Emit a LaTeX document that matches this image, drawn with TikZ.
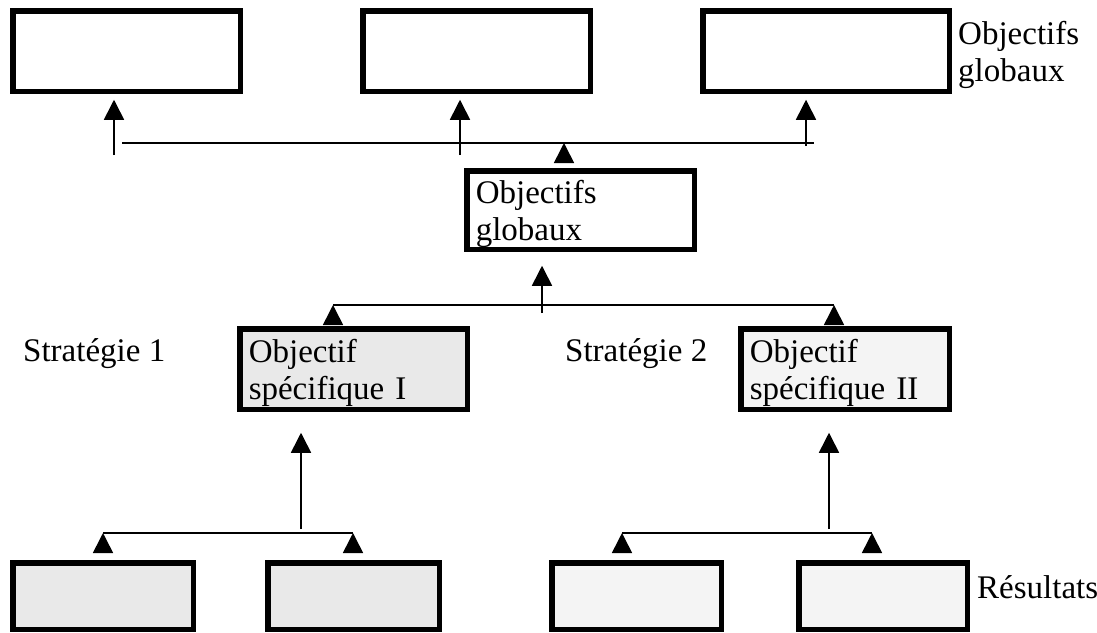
\documentclass[tikz,border=0pt]{standalone}
\usepackage{fontspec}
\setmainfont{Liberation Serif}
\usetikzlibrary{arrows.meta, positioning}
\definecolor{greyA}{RGB}{233, 233, 233}
\definecolor{greyB}{RGB}{244, 244, 244}

\tikzset{
  goalbox/.style={draw, line width=5.5pt, minimum height=80.5pt, inner sep=0pt},
  txtbox/.style={goalbox, align=left, inner xsep=9pt, text width=#1, text depth=36pt},
  tag/.style={anchor=base west, inner sep=0pt, align=left},
  link/.style={line width=1.6pt},
  up/.style={link, -{Triangle[length=20pt, width=20pt]}},
}

\begin{document}
\begin{tikzpicture}[x=1pt, y=-1pt, every node/.style={font=\fontsize{33}{37}\selectfont}]
    \useasboundingbox (0,0) rectangle (1097,632);
    % top row
    \node[goalbox, minimum width=227.5pt] (glob1) at (126.5,51) {};
    \node[goalbox, minimum width=227.5pt] (glob2) at (476.5,51) {};
    \node[goalbox, minimum width=246.5pt] (glob3) at (826,51) {};
    \node[tag] (lblglob) at (958,81) {Objectifs\\globaux};
    % middle
    \node[txtbox=209.5pt, minimum width=227.5pt, minimum height=78.5pt] (glob) at (580.5,210) {Objectifs\\globaux};
    \node[txtbox=209.5pt, minimum width=227.5pt, fill=greyA] (spec1) at (353.5,369) {Objectif\\spécifique I};
    \node[txtbox=190.5pt, minimum width=208.5pt, fill=greyB] (spec2) at (845,369) {Objectif\\spécifique II};
    \node[tag] (strat1) at (23,361) {Stratégie 1};
    \node[tag] (strat2) at (565,361) {Stratégie 2};
    % results
    \node[goalbox, minimum width=180.5pt, minimum height=66.5pt, fill=greyA] (res1) at (103,596) {};
    \node[goalbox, minimum width=171.5pt, minimum height=66.5pt, fill=greyA] (res2) at (353.5,596) {};
    \node[goalbox, minimum width=169.5pt, minimum height=66.5pt, fill=greyB] (res3) at (636.5,596) {};
    \node[goalbox, minimum width=168.5pt, minimum height=66.5pt, fill=greyB] (res4) at (883,596) {};
    \node[tag] (lblres) at (977,598) {Résultats};

    % junction points
    \coordinate (barA) at (122,143);  \coordinate (barB) at (814,143);
    \coordinate (upA) at (114,155);   \coordinate (upB) at (460,155);
    \coordinate (upC) at (806,146);   \coordinate (upD) at (564,143);
    \coordinate (midA) at (542,313);
    \coordinate (barC) at (333,305);  \coordinate (barD) at (834,305);
    \coordinate (lowA) at (301,529);  \coordinate (lowB) at (829,529);
    \coordinate (barE) at (103,533);  \coordinate (barF) at (353,533);
    \coordinate (barG) at (622,533);  \coordinate (barH) at (872,533);

    % global level
    \draw[link] (barA) -- (barB);
    \draw[up, shorten >=5.75pt] (upA) -- (upA |- glob1.south);
    \draw[up, shorten >=5.75pt] (upB) -- (upB |- glob2.south);
    \draw[up, shorten >=5.75pt] (upC) -- (upC |- glob3.south);
    \draw[up, shorten <=7.75pt] (upD |- glob.north) -- (upD);

    % strategies
    \draw[up, shorten >=13.75pt] (midA) -- (midA |- glob.south);
    \draw[link] (barC) -- (barD);
    \draw[up, shorten <=3.75pt] (barC |- spec1.north) -- (barC);
    \draw[up, shorten <=3.75pt] (barD |- spec2.north) -- (barD);

    % results
    \draw[up, shorten >=20.75pt] (lowA) -- (lowA |- spec1.south);
    \draw[up, shorten >=20.75pt] (lowB) -- (lowB |- spec2.south);
    \draw[link] (barE) -- (barF);
    \draw[link] (barG) -- (barH);
    \draw[up, shorten <=8.75pt] (barE |- res1.north) -- (barE);
    \draw[up, shorten <=8.75pt] (barF |- res2.north) -- (barF);
    \draw[up, shorten <=8.75pt] (barG |- res3.north) -- (barG);
    \draw[up, shorten <=8.75pt] (barH |- res4.north) -- (barH);
\end{tikzpicture}
\end{document}
